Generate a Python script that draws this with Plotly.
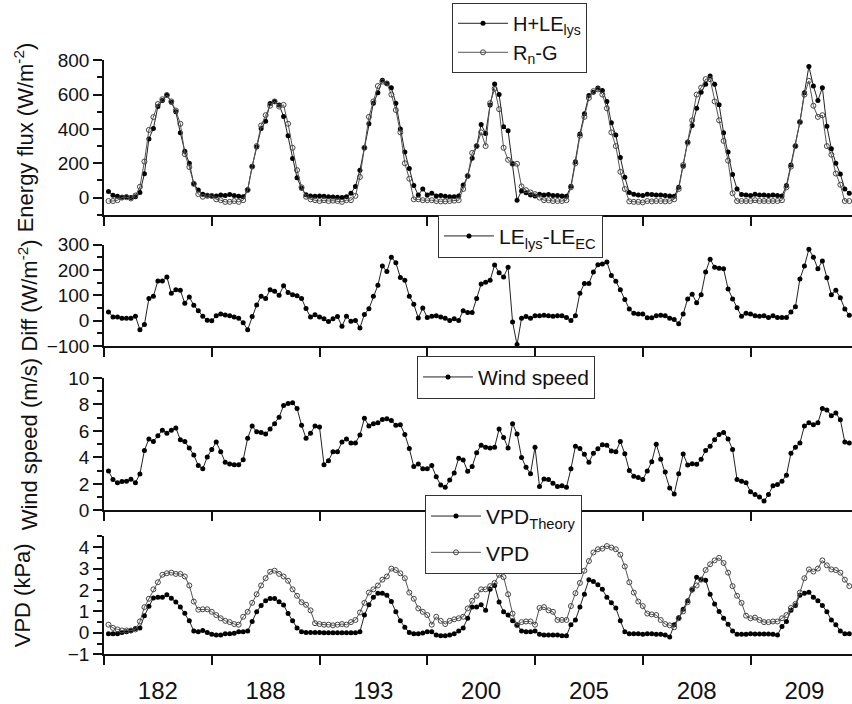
import plotly.graph_objects as go

# ---------------- data ----------------
day_labels = ["182", "188", "193", "200", "205", "208", "209"]

# H+LE_lys (W/m2), hourly, per day
hle_d1 = [35, 14, 8, 2, 5, 0, 5, 30, 139, 342, 402, 530, 565, 597, 555, 500, 378, 270, 200, 80, 45, 20, 14, 10]
hle_d2 = [10, 15, 12, 18, 12, 8, 5, 45, 182, 295, 402, 445, 548, 560, 540, 473, 360, 228, 115, 55, 17, 10, 8, 10]
hle_d3 = [8, 5, 3, 2, 0, 5, 25, 65, 160, 290, 430, 550, 610, 683, 665, 640, 550, 400, 265, 170, 70, 15, 50, 15]
hle_d4 = [25, 10, 12, 8, 5, 5, 10, 73, 126, 229, 300, 426, 374, 539, 661, 600, 413, 389, 197, -15, 39, 28, 15, 10]
hle_d5 = [20, 15, 18, 12, 12, 10, 8, 66, 209, 370, 488, 595, 614, 638, 623, 560, 436, 364, 233, 118, 30, 20, 15, 12]
hle_d6 = [20, 18, 15, 15, 12, 10, 8, 60, 182, 324, 420, 520, 613, 660, 708, 660, 541, 378, 265, 135, 50, 18, 15, 12]
hle_d7 = [20, 15, 15, 12, 15, 12, 10, 70, 190, 300, 440, 610, 764, 650, 565, 640, 416, 285, 200, 137, 50, 25]

# Rn-G (W/m2)
rng_d1 = [-20, -20, -15, 0, 2, -5, 12, 63, 210, 394, 469, 545, 573, 597, 560, 507, 430, 253, 178, 80, 20, 5, 10, 10]
rng_d2 = [-10, -15, -25, -25, -20, -25, -15, 45, 180, 300, 420, 480, 535, 560, 530, 540, 430, 290, 160, 60, 5, -10, -15, -20]
rng_d3 = [-15, -20, -18, -20, -25, -15, -15, 10, 120, 290, 470, 560, 650, 675, 665, 600, 510, 380, 200, 110, -10, -10, -15, -15]
rng_d4 = [-15, -20, -22, -22, -20, -18, -15, 50, 126, 260, 300, 380, 300, 550, 634, 515, 290, 220, 197, 197, 65, 43, 30, 20]
rng_d5 = [0, -15, -15, -20, -20, -20, -15, 60, 200, 360, 470, 580, 620, 630, 600, 520, 380, 300, 150, 50, -22, -25, -25, -28]
rng_d6 = [-20, -22, -20, -20, -22, -20, -10, 50, 190, 320, 450, 600, 640, 690, 690, 560, 450, 330, 215, 25, -20, -20, -20, -20]
rng_d7 = [-15, -20, -20, -20, -20, -20, -15, 60, 180, 300, 440, 600, 680, 535, 470, 480, 300, 250, 140, 75, -20, -20]

# LE_lys - LE_EC (W/m2)
dif_d1 = [35, 15, 15, 10, 10, 10, 18, -35, -15, 88, 97, 157, 157, 173, 109, 122, 120, 69, 94, 61, 40, 18, 2, 0]
dif_d2 = [20, 27, 23, 20, 15, 10, -8, -35, 17, 62, 97, 88, 122, 116, 101, 138, 112, 103, 99, 88, 48, 15, 24, 15]
dif_d3 = [8, -3, 8, 17, -22, 18, -2, 1, -28, 25, 47, 97, 140, 216, 194, 251, 229, 171, 160, 97, 65, 11, 50, 13]
dif_d4 = [18, 20, 15, 10, 1, 8, 1, 40, 33, 33, 88, 145, 152, 160, 220, 189, 173, 211, -5, -94, 10, 17, 10, 20]
dif_d5 = [20, 22, 20, 18, 20, 20, 13, 1, 20, 109, 147, 147, 192, 221, 224, 232, 179, 156, 122, 84, 46, 30, 27, 27]
dif_d6 = [12, 12, 20, 22, 20, 10, 5, -12, 27, 86, 105, 71, 103, 192, 243, 211, 207, 205, 125, 86, 51, 18, 30, 27]
dif_d7 = [20, 18, 20, 13, 20, 13, 13, 13, 35, 55, 165, 216, 282, 251, 205, 236, 170, 103, 120, 91, 46, 22]

# Wind speed (m/s)
ws_d1 = [2.97, 2.33, 2.09, 2.17, 2.2, 2.35, 2.09, 2.75, 4.53, 5.4, 5.2, 5.64, 6.06, 5.82, 6.06, 6.23, 5.33, 5.2, 4.72, 4.19, 3.38, 3.14, 4.04, 4.6]
ws_d2 = [5.16, 4.43, 3.63, 3.5, 3.45, 3.45, 3.82, 5.45, 6.38, 5.94, 5.89, 5.77, 6.14, 6.55, 7.04, 7.93, 8.08, 8.13, 7.7, 6.43, 5.45, 5.82, 6.38, 6.3]
ws_d3 = [3.45, 3.75, 4.43, 4.43, 5.16, 5.4, 5.09, 5.09, 5.7, 6.96, 6.38, 6.55, 6.62, 6.87, 6.92, 6.79, 6.43, 6.47, 5.74, 4.67, 3.31, 3.5, 3.14, 3.14]
ws_d4 = [3.38, 2.53, 1.92, 1.75, 2.29, 2.82, 3.94, 3.8, 2.95, 3.31, 4.36, 4.92, 4.77, 4.72, 4.77, 6.14, 5.5, 4.72, 6.55, 5.77, 3.99, 3.26, 2.77, 4.77]
ws_d5 = [1.8, 2.36, 2.33, 2.04, 1.8, 1.85, 1.75, 3.14, 4.84, 4.67, 4.23, 3.63, 4.31, 4.65, 4.96, 4.92, 4.48, 4.43, 5.2, 4.28, 3.02, 2.58, 2.48, 2.33]
ws_d6 = [2.97, 3.67, 5.0, 3.87, 2.9, 1.68, 1.24, 2.77, 4.26, 3.43, 3.53, 3.48, 3.87, 4.53, 4.84, 5.33, 5.74, 5.89, 5.4, 4.6, 2.33, 2.2, 2.09, 1.4]
ws_d7 = [1.2, 1.0, 0.7, 1.2, 1.85, 1.95, 2.2, 2.66, 4.31, 4.77, 5.09, 6.38, 6.62, 6.47, 6.62, 7.7, 7.59, 7.15, 7.35, 6.84, 5.16, 5.09]

# VPD_Theory (kPa)
vt_d1 = [-0.04, -0.04, -0.04, 0.01, 0.05, 0.1, 0.2, 0.23, 0.8, 1.24, 1.63, 1.66, 1.66, 1.78, 1.62, 1.44, 1.2, 0.91, 0.56, 0.08, 0.05, 0.11, 0.01, -0.07]
vt_d2 = [-0.1, -0.1, -0.04, -0.04, -0.02, 0.05, 0.05, 0.08, 0.53, 0.98, 1.28, 1.5, 1.6, 1.6, 1.45, 1.3, 0.9, 0.56, 0.23, 0.05, 0.01, 0.01, 0.01, 0.01]
vt_d3 = [0.0, 0.0, 0.0, 0.0, 0.0, 0.0, 0.0, 0.0, 0.05, 0.83, 1.31, 1.66, 1.85, 1.85, 1.76, 1.46, 0.98, 0.56, 0.26, 0.01, -0.04, -0.04, -0.01, 0.05]
vt_d4 = [0.05, -0.1, -0.14, -0.14, -0.1, -0.04, 0.08, 0.23, 0.68, 1.2, 1.2, 1.31, 1.05, 2.03, 2.21, 1.44, 0.98, 0.83, 0.56, 0.38, 0.08, 0.05, 0.05, 0.08]
vt_d5 = [-0.07, -0.1, -0.1, -0.1, -0.1, -0.14, -0.14, 0.38, 0.6, 1.2, 1.8, 2.48, 2.4, 2.25, 2.03, 1.66, 1.4, 1.16, 0.56, 0.05, -0.04, -0.04, -0.04, -0.07]
vt_d6 = [-0.04, -0.04, -0.07, -0.07, -0.1, -0.2, 0.38, 0.7, 1.1, 1.5, 2.0, 2.6, 2.5, 2.45, 1.8, 1.35, 1.0, 0.68, 0.4, 0.08, -0.07, -0.07, -0.07, -0.04]
vt_d7 = [-0.05, -0.05, -0.05, -0.05, -0.07, -0.1, 0.3, 0.53, 1.05, 1.28, 1.76, 1.85, 1.89, 1.66, 1.5, 1.28, 0.98, 0.6, 0.38, 0.08, -0.04, -0.04]

# VPD measured (kPa)
vp_d1 = [0.38, 0.23, 0.16, 0.11, 0.11, 0.11, 0.16, 0.53, 1.2, 1.59, 2.03, 2.36, 2.71, 2.78, 2.81, 2.75, 2.75, 2.63, 2.21, 1.46, 1.08, 1.1, 1.1, 0.98]
vp_d2 = [0.83, 0.68, 0.56, 0.5, 0.41, 0.38, 0.75, 0.98, 1.4, 1.8, 2.21, 2.55, 2.85, 2.9, 2.75, 2.63, 2.43, 2.03, 1.73, 1.43, 1.31, 1.05, 0.45, 0.41]
vp_d3 = [0.38, 0.38, 0.35, 0.38, 0.41, 0.38, 0.5, 0.6, 0.95, 1.4, 1.88, 2.03, 2.21, 2.48, 2.63, 3.0, 2.93, 2.78, 2.55, 1.88, 1.59, 1.14, 0.98, 0.83]
vp_d4 = [0.38, 0.75, 0.56, 0.41, 0.56, 0.63, 0.68, 0.75, 1.14, 1.5, 1.73, 2.03, 2.03, 2.18, 2.33, 2.71, 2.6, 1.8, 0.9, 0.35, 0.5, 0.53, 0.53, 0.38]
vp_d5 = [1.16, 1.2, 1.05, 0.98, 0.6, 0.6, 0.6, 1.25, 1.85, 2.33, 2.9, 3.35, 3.75, 3.9, 3.93, 4.05, 3.98, 3.9, 3.65, 3.1, 2.36, 1.88, 1.46, 1.25]
vp_d6 = [0.9, 0.86, 0.83, 0.6, 0.41, 0.35, 0.26, 0.68, 1.0, 1.43, 2.03, 2.21, 2.48, 2.93, 3.2, 3.38, 3.5, 3.26, 2.81, 2.18, 1.73, 1.4, 0.8, 0.68]
vp_d7 = [0.71, 0.6, 0.5, 0.5, 0.53, 0.53, 0.68, 0.83, 1.16, 1.35, 1.88, 2.55, 2.96, 2.86, 3.0, 3.38, 3.15, 2.96, 2.93, 2.81, 2.48, 2.18]

hle = hle_d1 + hle_d2 + hle_d3 + hle_d4 + hle_d5 + hle_d6 + hle_d7
rng = rng_d1 + rng_d2 + rng_d3 + rng_d4 + rng_d5 + rng_d6 + rng_d7
dif = dif_d1 + dif_d2 + dif_d3 + dif_d4 + dif_d5 + dif_d6 + dif_d7
ws = ws_d1 + ws_d2 + ws_d3 + ws_d4 + ws_d5 + ws_d6 + ws_d7
vt = vt_d1 + vt_d2 + vt_d3 + vt_d4 + vt_d5 + vt_d6 + vt_d7
vp = vp_d1 + vp_d2 + vp_d3 + vp_d4 + vp_d5 + vp_d6 + vp_d7

hours = list(range(1, len(hle) + 1))
HPD = 24
day_mid = [HPD * k + HPD / 2 for k in range(len(day_labels))]

# ---------------- figure ----------------
FONT = "Liberation Sans, Arial, sans-serif"
W, H = 852, 704
BLK = "#111111"

fig = go.Figure()

def filled(x, y, name, xa, ya, leg, grp):
    return go.Scatter(x=x, y=y, name=name, xaxis=xa, yaxis=ya, legend=leg,
                      legendgroup=grp, mode="lines+markers",
                      line=dict(color="#222222", width=1),
                      marker=dict(symbol="circle", size=5, color="#000000"))

def hollow(x, y, name, xa, ya, leg, grp):
    return go.Scatter(x=x, y=y, name=name, xaxis=xa, yaxis=ya, legend=leg,
                      legendgroup=grp, mode="lines+markers",
                      line=dict(color="#555555", width=1),
                      marker=dict(symbol="circle-open", size=5, color="#444444",
                                  line=dict(width=1, color="#444444")))

fig.add_trace(filled(hours, hle, "H+LE<sub>lys</sub>", "x", "y", "legend", "a"))
fig.add_trace(hollow(hours, rng, "R<sub>n</sub>-G", "x", "y", "legend", "b"))
fig.add_trace(filled(hours, dif, "LE<sub>lys</sub>-LE<sub>EC</sub>", "x2", "y2", "legend2", "c"))
fig.add_trace(filled(hours, ws, "Wind speed", "x3", "y3", "legend3", "d"))
fig.add_trace(filled(hours, vt, "VPD<sub>Theory</sub>", "x4", "y4", "legend4", "e"))
fig.add_trace(hollow(hours, vp, "VPD", "x4", "y4", "legend4", "f"))

def ydom(top_px, bot_px):
    return [1 - bot_px / H, 1 - top_px / H]

xdom = [104 / W, 1.0]
xrange_ = [0, 166.6]

def xaxis(anchor, labels):
    return dict(domain=xdom, range=xrange_, anchor=anchor,
                showline=True, linecolor=BLK, linewidth=1.5,
                showgrid=False, zeroline=False,
                tickmode="array", tickvals=day_mid,
                ticktext=day_labels, showticklabels=labels,
                ticks="", ticklabelstandoff=14,
                tickfont=dict(size=24, color=BLK, family=FONT),
                minor=dict(tick0=0, dtick=HPD, ticks="outside", ticklen=9,
                           tickwidth=1.5, tickcolor=BLK, showgrid=False))

def yaxis(anchor, dom, rng_, dtick, mdtick, title, standoff):
    return dict(domain=dom, range=rng_, anchor=anchor,
                showline=True, linecolor=BLK, linewidth=1.5,
                showgrid=False, zeroline=False,
                tick0=0, dtick=dtick, ticks="outside", ticklen=9,
                tickwidth=1.5, tickcolor=BLK,
                tickfont=dict(size=19, color=BLK, family=FONT),
                minor=dict(tick0=0, dtick=mdtick, ticks="outside", ticklen=5,
                           tickwidth=1.5, tickcolor=BLK, showgrid=False),
                title=dict(text=title, standoff=standoff,
                           font=dict(size=22, color=BLK, family=FONT)))

legend_common = dict(bgcolor="white", bordercolor="#333333", borderwidth=1,
                     font=dict(size=21, color=BLK, family=FONT),
                     xanchor="left", itemwidth=50)

fig.update_layout(
    width=W, height=H,
    margin=dict(l=0, r=0, t=0, b=0),
    paper_bgcolor="white", plot_bgcolor="white",
    font=dict(family=FONT, color=BLK),
    showlegend=True,
    xaxis=xaxis("y", False),
    xaxis2=xaxis("y2", False),
    xaxis3=xaxis("y3", False),
    xaxis4=xaxis("y4", True),
    yaxis=yaxis("x", ydom(52, 212), [-100, 800], 200, 100,
                "Energy flux (W/m<sup>-2</sup>)", 18),
    yaxis2=yaxis("x2", ydom(243, 348), [-100, 300], 100, 50,
                 "Diff (W/m<sup>-2</sup>)", 3),
    yaxis3=yaxis("x3", ydom(381, 518), [0, 10], 2, 1,
                 "Wind speed (m/s)", 25),
    yaxis4=yaxis("x4", ydom(545, 667), [-1, 4.5], 1, 0.5,
                 "VPD (kPa)", 31),
    legend=dict(legend_common, x=452 / W, y=1 - 65 / H, yanchor="bottom",
                font=dict(size=20, color=BLK, family=FONT), tracegroupgap=0),
    legend2=dict(legend_common, x=438 / W, y=1 - 212 / H, yanchor="top",
                 tracegroupgap=0),
    legend3=dict(legend_common, x=417 / W, y=1 - 358 / H, yanchor="top",
                 tracegroupgap=0),
    legend4=dict(legend_common, x=425 / W, y=1 - 502 / H, yanchor="top",
                 tracegroupgap=6),
)

fig.write_html("out.html")
